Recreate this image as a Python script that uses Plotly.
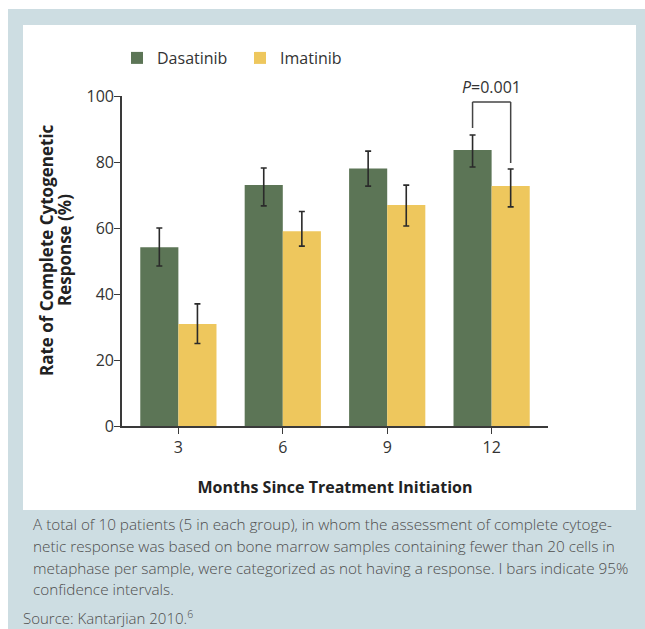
import plotly.graph_objects as go

months = ["3", "6", "9", "12"]
dasatinib = [54.2, 73.0, 78.0, 83.6]
dasatinib_hi = [60.0, 78.2, 83.3, 88.2]
dasatinib_lo = [48.5, 66.7, 72.7, 78.5]
imatinib = [30.9, 59.0, 67.0, 72.7]
imatinib_hi = [37.0, 65.0, 73.0, 77.9]
imatinib_lo = [25.0, 54.5, 60.6, 66.4]

caption_lines = [
    "A total of 10 patients (5 in each group), in whom the assessment of complete cytoge-",
    "netic response was based on bone marrow samples containing fewer than 20 cells in",
    "metaphase per sample, were categorized as not having a response. I bars indicate 95%",
    "confidence intervals.",
]
source_text = "Source: Kantarjian 2010.<sup>6</sup>"
y_title_lines = ["<b>Rate of Complete Cytogenetic</b>", "<b>Response (%)</b>"]
x_title = "<b>Months Since Treatment Initiation</b>"

GREEN = "#5c7556"
YELLOW = "#eec75d"
BLUE = "#cddde2"
AXIS = "#3a3a3a"
TXT = "#333333"
FONT = "Open Sans, Lato, sans-serif"

W, H = 645, 629
L, T = 122, 96
R = W - 548
B = H - 426
pw, ph = W - L - R, H - T - B


def px(xp):  # pixel -> paper x
    return (xp - L) / pw


def py(yp):  # pixel -> paper y
    return (H - B - yp) / ph


fig = go.Figure()
fig.add_trace(go.Bar(
    name="Dasatinib", x=months, y=dasatinib, marker_color=GREEN, marker_line_width=0,
    error_y=dict(type="data", symmetric=False,
                 array=[h - v for h, v in zip(dasatinib_hi, dasatinib)],
                 arrayminus=[v - l for v, l in zip(dasatinib, dasatinib_lo)],
                 color="#2a2a2a", thickness=1.6, width=3),
))
fig.add_trace(go.Bar(
    name="Imatinib", x=months, y=imatinib, marker_color=YELLOW, marker_line_width=0,
    error_y=dict(type="data", symmetric=False,
                 array=[h - v for h, v in zip(imatinib_hi, imatinib)],
                 arrayminus=[v - l for v, l in zip(imatinib, imatinib_lo)],
                 color="#2a2a2a", thickness=1.6, width=3),
))

shapes = [
    dict(type="rect", xref="paper", yref="paper", x0=px(8), x1=px(W + 10), y0=py(9), y1=py(H + 10),
         fillcolor=BLUE, line_width=0, layer="below"),
    dict(type="rect", xref="paper", yref="paper", x0=px(23), x1=px(636), y0=py(25), y1=py(510),
         fillcolor="white", line_width=0, layer="below"),
]

# significance bracket over the last group
gap = 0.73
off = gap / 4
last = len(months) - 1
ytop = 98.2
shapes += [
    dict(type="line", xref="x", yref="y", x0=last - off, x1=last - off,
         y0=dasatinib_hi[last] + 2.1, y1=ytop, line=dict(color="#444", width=1.5)),
    dict(type="line", xref="x", yref="y", x0=last + off, x1=last + off,
         y0=imatinib_hi[last] + 1.8, y1=ytop, line=dict(color="#444", width=1.5)),
    dict(type="line", xref="x", yref="y", x0=last - off, x1=last + off,
         y0=ytop, y1=ytop, line=dict(color="#444", width=1.5)),
]

annotations = [
    dict(xref="x", yref="y", x=last, y=ytop, yanchor="bottom", yshift=2,
         text="<i>P</i>=0.001", showarrow=False, font=dict(size=16, color=TXT, family=FONT)),
]
for line, xx in zip(y_title_lines, [46, 64]):
    annotations.append(dict(xref="paper", yref="paper", x=px(xx), y=py(250), xanchor="center",
                            yanchor="middle", text=line, textangle=-90, showarrow=False,
                            font=dict(size=17, color="#222", family=FONT)))
cap_y = [524, 546, 568, 589]
for line, yy in zip(caption_lines, cap_y):
    annotations.append(dict(xref="paper", yref="paper", x=px(31), y=py(yy), xanchor="left",
                            yanchor="middle", text=line, showarrow=False,
                            font=dict(size=15.3, color="#4d4d4d", family=FONT, weight=300)))
annotations.append(dict(xref="paper", yref="paper", x=px(21), y=py(617), xanchor="left",
                        yanchor="middle", text=source_text, showarrow=False,
                        font=dict(size=15, color="#4d4d4d", family=FONT, weight=300)))

fig.update_layout(
    width=W, height=H,
    margin=dict(l=L, r=R, t=T, b=B, pad=0),
    paper_bgcolor="white", plot_bgcolor="rgba(0,0,0,0)",
    barmode="group", bargap=0.27, bargroupgap=0,
    font=dict(family=FONT, color=TXT, size=15),
    showlegend=True,
    legend=dict(orientation="h", x=px(117), y=py(41), xanchor="left", yanchor="top",
                bgcolor="rgba(0,0,0,0)", font=dict(size=16, color=TXT, family=FONT),
                itemwidth=30, tracegroupgap=0, entrywidth=78),
    shapes=shapes,
    annotations=annotations,
    xaxis=dict(type="category", range=[-0.54, 3.54], showline=True, linecolor=AXIS, linewidth=1.6,
               ticks="outside", ticklen=6, tickwidth=1.4, tickcolor=AXIS, showgrid=False,
               tickfont=dict(size=16, color=TXT),
               title=dict(text=x_title, standoff=25,
                          font=dict(size=16, color="#222", family=FONT))),
    yaxis=dict(range=[0, 100], tickvals=[0, 20, 40, 60, 80, 100], showline=True, linecolor=AXIS,
               linewidth=1.6, ticks="outside", ticklen=6, tickwidth=1.4, tickcolor=AXIS,
               ticklabelstandoff=-3,
               showgrid=False, zeroline=False, tickfont=dict(size=16, color=TXT)),
)

fig.write_html("out.html", config={"displayModeBar": False},
               post_script="document.body.style.margin='0';document.body.style.overflow='hidden';")
